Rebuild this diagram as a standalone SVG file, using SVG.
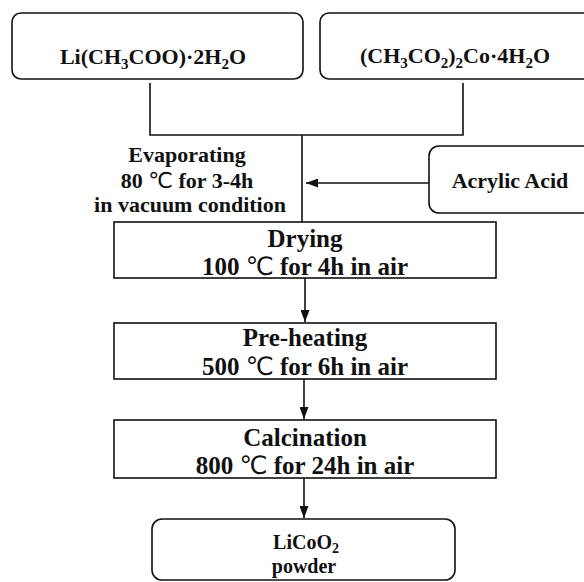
<svg xmlns="http://www.w3.org/2000/svg" width="584" height="582" viewBox="0 0 584 582">
<defs>
<style>
.box{fill:#fff;stroke:#111;stroke-width:1.6}
.t{font-weight:bold;fill:#111;text-anchor:middle}
.s22{font-size:22px}
.s25{font-size:25px}
.s20{font-size:20px}
.deg{font-weight:normal}
.con{fill:none;stroke:#111;stroke-width:1.6}
</style>
<marker id="ah" markerWidth="12" markerHeight="9" refX="12" refY="4.5" orient="auto" markerUnits="userSpaceOnUse">
<path d="M0,0 L12,4.5 L0,9 Z" fill="#111"/>
</marker>
</defs>
<rect width="584" height="582" fill="#fff"/>
<g id="connectors">
<path class="con" d="M150 83 V135 H463 V83"/>
<path class="con" d="M302 135 V222"/>
<path class="con" d="M429 183 H306" marker-end="url(#ah)"/>
<path class="con" d="M305 276 V322" marker-end="url(#ah)"/>
<path class="con" d="M304 374 V419" marker-end="url(#ah)"/>
<path class="con" d="M304 474 V518" marker-end="url(#ah)"/>
</g>
<g font-family="'Liberation Serif', 'Times New Roman', serif">
<g id="li-acetate">
<rect class="box" x="12" y="13" width="291" height="66" rx="9"/>
<text class="t s22" x="153" y="64">Li(CH<tspan font-size="15" dy="5">3</tspan><tspan dy="-5">COO)·2H</tspan><tspan font-size="15" dy="5">2</tspan><tspan dy="-5">O</tspan></text>
</g>
<g id="co-acetate">
<rect class="box" x="320" y="13" width="290" height="66" rx="9"/>
<text class="t s22" x="455" y="63">(CH<tspan font-size="15" dy="5">3</tspan><tspan dy="-5">CO</tspan><tspan font-size="15" dy="5">2</tspan><tspan dy="-5">)</tspan><tspan font-size="15" dy="5">2</tspan><tspan dy="-5">Co·4H</tspan><tspan font-size="15" dy="5">2</tspan><tspan dy="-5">O</tspan></text>
</g>
<g id="evaporating">
<text class="t s22" x="187" y="162">Evaporating</text>
<text class="t s22" x="187" y="188">80 <tspan class="deg" font-family="'DejaVu Sans', sans-serif">℃</tspan> for 3-4h</text>
<text class="t s22" x="190" y="212">in vacuum condition</text>
</g>
<g id="acrylic-acid">
<rect class="box" x="429" y="146" width="180" height="67" rx="10"/>
<text class="t s22" x="510" y="188">Acrylic Acid</text>
</g>
<g id="drying">
<rect class="box" x="114" y="222" width="382" height="56"/>
<text class="t s25" x="305" y="247">Drying</text>
<text class="t s25" x="305" y="275">100 <tspan class="deg" font-family="'DejaVu Sans', sans-serif">℃</tspan> for 4h in air</text>
</g>
<g id="preheating">
<rect class="box" x="114" y="323" width="382" height="56"/>
<text class="t s25" x="305" y="346">Pre-heating</text>
<text class="t s25" x="305" y="375">500 <tspan class="deg" font-family="'DejaVu Sans', sans-serif">℃</tspan> for 6h in air</text>
</g>
<g id="calcination">
<rect class="box" x="114" y="420" width="382" height="58"/>
<text class="t s25" x="305" y="446">Calcination</text>
<text class="t s25" x="305" y="474">800 <tspan class="deg" font-family="'DejaVu Sans', sans-serif">℃</tspan> for 24h in air</text>
</g>
<g id="licoo2">
<rect class="box" x="152" y="519" width="303" height="61" rx="10"/>
<text class="t s20" x="306" y="549">LiCoO<tspan font-size="14" dy="4">2</tspan></text>
<text class="t s20" x="304" y="573">powder</text>
</g>
</g>
</svg>
